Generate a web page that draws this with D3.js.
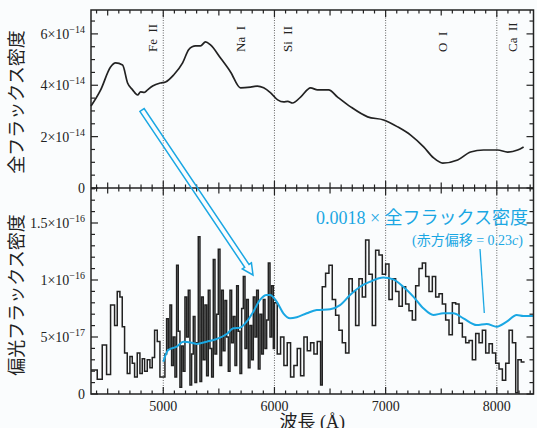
<!DOCTYPE html>
<html>
<head>
<meta charset="utf-8">
<script src="https://cdn.jsdelivr.net/npm/d3@7"></script>
<style>
  body { margin: 0; background: #fafcfd; }
  svg text { font-family: 'Liberation Serif', 'Times New Roman', serif; }
  svg .jp { font-family: 'Noto Sans CJK JP', sans-serif; }
</style>
</head>
<body>
<script>
// total flux (units of 1e-14)
var totalWave = [4350, 4437, 4526, 4571, 4634, 4679, 4724, 4769, 4796, 4830, 4859, 4904, 4976, 5021, 5093, 5174, 5228, 5260, 5290, 5335, 5380, 5425, 5515, 5605, 5695, 5785, 5847, 5903, 5966, 6029, 6083, 6120, 6163, 6235, 6325, 6388, 6487, 6568, 6685, 6838, 6982, 7108, 7225, 7342, 7432, 7513, 7648, 7764, 7881, 8007, 8097, 8187, 8241];
var totalFlux = [3.19, 3.82, 4.71, 4.87, 4.79, 4.09, 3.82, 3.62, 3.74, 3.72, 3.82, 3.97, 4.09, 4.13, 4.40, 4.87, 5.38, 5.50, 5.53, 5.53, 5.69, 5.57, 5.06, 4.52, 3.90, 3.93, 3.97, 3.90, 3.70, 3.43, 3.35, 3.37, 3.31, 3.54, 3.90, 3.82, 3.82, 3.54, 3.16, 2.77, 2.65, 2.38, 2.06, 1.60, 1.17, 0.97, 1.09, 1.40, 1.48, 1.48, 1.40, 1.48, 1.60];

// polarized flux histogram (bin start, units of 1e-17)
var polStart = [4350, 4406, 4451, 4490, 4526, 4562, 4586, 4610, 4631, 4652, 4676, 4700, 4721, 4742, 4766, 4790, 4811, 4832, 4856, 4880, 4901, 4922, 4946, 4970,
  5000, 5015, 5030, 5045, 5060, 5075, 5090, 5105, 5120, 5135,
  5150, 5165, 5180, 5195, 5210, 5225, 5240, 5255, 5270, 5285,
  5300, 5315, 5330, 5345, 5360, 5375, 5390, 5405, 5420, 5435,
  5450, 5465, 5480, 5495, 5510, 5525, 5540, 5555, 5570, 5585,
  5600, 5615, 5630, 5645, 5660, 5675, 5690, 5705, 5720, 5735,
  5750, 5765, 5780, 5795, 5810, 5825, 5840, 5855, 5870, 5885,
  5900, 5915, 5930, 5945, 5960, 5975, 5990,
  6000, 6025, 6055, 6085, 6115, 6145, 6175, 6205, 6235, 6265,
  6295, 6325, 6355, 6385, 6415, 6430, 6460, 6490, 6520, 6550,
  6580, 6610, 6640, 6670, 6700, 6730, 6760, 6790, 6820, 6850,
  6880, 6910, 6940, 6970, 7000, 7030, 7060, 7090, 7120, 7150,
  7180, 7210, 7240, 7270, 7300, 7330, 7360, 7390, 7420, 7450,
  7480, 7510, 7540, 7570, 7600, 7630, 7660, 7690, 7720, 7750,
  7780, 7810, 7840, 7870, 7900, 7930, 7960, 7990, 8020, 8050,
  8080, 8110, 8140, 8170, 8190, 8220];
var polFlux = [2.1, 1.3, 4.3, 1.7, 7.8, 6.0, 9.0, 8.5, 5.9, 3.6, 1.8, 3.3, 2.7, 1.5, 3.6, 1.8, 3.1, 2.0, 3.0, 2.3, 3.2, 5.6, 4.6, 1.5,
  1.5, 3.5, 6.6, 4.0, 7.8, 2.5, 5.0, 1.5, 11.3, 5.5,
  0.6, 4.2, 2.0, 8.5, 5.0, 9.1, 0.8, 3.5, 6.8, 1.0,
  4.5, 13.8, 1.1, 8.5, 3.0, 7.8, 1.6, 9.1, 4.0, 1.5,
  11.8, 3.5, 7.0, 12.7, 2.5, 9.1, 3.8, 8.2, 5.0, 2.0,
  9.1, 4.5, 6.8, 2.5, 9.5, 5.5, 1.8, 7.5, 10.3, 4.0,
  8.3, 2.3, 6.0, 3.0, 8.5, 5.0, 9.1, 2.2, 7.0, 3.5,
  8.3, 4.0, 6.5, 11.5, 5.0, 9.5, 4.0,
  8.0, 3.5, 5.0, 2.5, 4.5, 1.5, 2.5, 4.0, 1.6, 5.0,
  3.8, 4.5, 3.5, 4.6, 0.8, 9.4, 10.6, 11.3, 8.3, 6.9,
  5.6, 4.5, 3.6, 10.1, 9.0, 6.0, 10.1, 8.5, 13.5, 10.5,
  6.0, 12.6, 12.2, 10.5, 11.4, 8.3, 10.1, 9.0, 7.7, 9.4,
  7.9, 7.3, 6.5, 9.5, 11.0, 11.5, 10.3, 9.0, 10.3, 8.5,
  8.8, 7.9, 6.5, 5.2, 8.0, 7.9, 6.2, 5.0, 4.5, 4.7,
  3.0, 5.3, 4.5, 5.6, 3.6, 4.4, 3.6, 2.7, 2.2, 1.2,
  2.7, 5.6, 4.5, 0.1, 3.0, 2.8];
var polEnd = 8250;

// 0.0018 x total flux, redshifted (units of 1e-17)
var modelWave = [5000, 5045, 5121, 5180, 5256, 5301, 5391, 5481, 5571, 5630, 5690, 5750, 5810, 5870, 5930, 5960, 6020, 6080, 6140, 6200, 6290, 6380, 6500, 6590, 6680, 6770, 6860, 6979, 7069, 7159, 7249, 7339, 7429, 7519, 7609, 7699, 7819, 7909, 7999, 8089, 8179, 8238, 8330];
var modelFlux = [2.83, 3.86, 4.15, 4.59, 4.50, 4.39, 4.59, 4.82, 5.26, 5.76, 5.82, 6.34, 7.22, 8.25, 8.68, 8.68, 8.10, 7.08, 6.64, 6.73, 7.08, 7.37, 7.43, 7.80, 8.68, 9.41, 9.85, 10.23, 10.06, 9.41, 8.54, 7.52, 6.93, 7.08, 7.08, 6.64, 6.05, 6.14, 5.90, 6.34, 6.93, 6.84, 6.84];

var lineNames = ["Fe\u2002II", "Na\u2002I", "Si\u2002II", "O\u2002I", "Ca\u2002II"];
var lineWave = [4899, 5699, 6113, 7516, 8137];

var xMajor = [5000, 6000, 7000, 8000];
var topTickVals = [0, 2, 4, 6];
var topTickText = [["0", ""], ["2×10", "−14"], ["4×10", "−14"], ["6×10", "−14"]];
var botTickVals = [0, 5, 10, 15];
var botTickText = [["0", ""], ["5×10", "−17"], ["1×10", "−16"], ["1.5×10", "−16"]];

var W = 537, H = 428;
var blue = "#1aa7e3", ink = "#222";
var svg = d3.select("body").append("svg").attr("width", W).attr("height", H);
svg.append("rect").attr("width", W).attr("height", H).attr("fill", "#fafcfd");

var L = 91, R = 533.5, T = 10, M = 188, B = 394;
var x = d3.scaleLinear().domain([4350, 8330]).range([L, R]);
var yTop = d3.scaleLinear().domain([0, 6.93]).range([M, T]);
var yBot = d3.scaleLinear().domain([0, 18.07]).range([B, M]);

// dotted lines at 1000 A
svg.selectAll(".grid").data(xMajor).enter().append("line")
  .attr("x1", d => x(d)).attr("x2", d => x(d)).attr("y1", T).attr("y2", B)
  .attr("stroke", "#555").attr("stroke-width", 0.9).attr("stroke-dasharray", "1,1.5");

// total flux
var topLine = d3.line().x(d => x(d[0])).y(d => yTop(d[1])).curve(d3.curveMonotoneX);
svg.append("path").datum(totalWave.map((w, i) => [w, totalFlux[i]]))
  .attr("d", topLine).attr("fill", "none").attr("stroke", ink).attr("stroke-width", 1.7);

// polarized flux histogram
var steps = [];
polStart.forEach(function (s, i) {
  var e = i < polStart.length - 1 ? polStart[i + 1] : polEnd;
  steps.push([s, polFlux[i]]);
  steps.push([e, polFlux[i]]);
});
svg.append("path").datum(steps)
  .attr("d", d3.line().x(d => x(d[0])).y(d => yBot(d[1])))
  .attr("fill", "none").attr("stroke", ink).attr("stroke-width", 1.5);

// scaled total flux
svg.append("path").datum(modelWave.map((w, i) => [w, modelFlux[i]]))
  .attr("d", d3.line().x(d => x(d[0])).y(d => yBot(d[1])).curve(d3.curveMonotoneX))
  .attr("fill", "none").attr("stroke", blue).attr("stroke-width", 2);

// frame
svg.append("rect").attr("x", L).attr("y", T).attr("width", R - L).attr("height", B - T)
  .attr("fill", "none").attr("stroke", ink).attr("stroke-width", 1.5);
svg.append("line").attr("x1", L).attr("x2", R).attr("y1", M).attr("y2", M)
  .attr("stroke", ink).attr("stroke-width", 1.5);

// x ticks
var g = svg.append("g").attr("stroke", ink).attr("stroke-width", 1.2);
d3.range(4400, 8400, 100).forEach(function (w) {
  var len = w % 1000 === 0 ? 7 : (w % 500 === 0 ? 5.5 : 3.5);
  var px = x(w);
  g.append("line").attr("x1", px).attr("x2", px).attr("y1", T).attr("y2", T + len);
  g.append("line").attr("x1", px).attr("x2", px).attr("y1", M - len).attr("y2", M + len);
  g.append("line").attr("x1", px).attr("x2", px).attr("y1", B).attr("y2", B - len);
});

// y ticks
function yTicks(scale, lo, hi, step, majorEvery) {
  for (var v = lo; v <= hi + 1e-9; v += step) {
    var len = (Math.abs(v / majorEvery - Math.round(v / majorEvery)) < 1e-6) ? 7 : 4;
    var py = scale(v);
    g.append("line").attr("x1", L).attr("x2", L + len).attr("y1", py).attr("y2", py);
    g.append("line").attr("x1", R).attr("x2", R - len).attr("y1", py).attr("y2", py);
  }
}
yTicks(yTop, 0, 6.9, 0.5, 2);
yTicks(yBot, 0, 18, 1, 5);

// y tick labels
function yLabels(scale, vals, texts) {
  vals.forEach(function (v, i) {
    var t = svg.append("text").attr("x", 85).attr("y", scale(v) + 5)
      .attr("text-anchor", "end").attr("font-size", 14).attr("fill", ink);
    t.append("tspan").text(texts[i][0]);
    if (texts[i][1]) t.append("tspan").attr("dy", -6).attr("font-size", 10).text(texts[i][1]);
  });
}
yLabels(yTop, topTickVals, topTickText);
yLabels(yBot, botTickVals, botTickText);

// x tick labels
svg.selectAll(".xl").data(xMajor).enter().append("text")
  .attr("x", d => x(d)).attr("y", 411).attr("text-anchor", "middle")
  .attr("font-size", 14).attr("fill", ink).text(d => d);

// axis titles
svg.append("text").attr("class", "jp").attr("transform", "translate(23,102) rotate(-90)")
  .attr("text-anchor", "middle").attr("font-size", 18).attr("fill", ink)
  .text("全フラックス密度");
svg.append("text").attr("class", "jp").attr("transform", "translate(23,295) rotate(-90)")
  .attr("text-anchor", "middle").attr("font-size", 18).attr("fill", ink)
  .text("偏光フラックス密度");
var xt = svg.append("text").attr("x", (L + R) / 2).attr("y", 428).attr("text-anchor", "middle")
  .attr("font-size", 18).attr("fill", ink);
xt.append("tspan").attr("class", "jp").text("波長");
xt.append("tspan").text(" (Å)");

// line identifications
svg.selectAll(".ion").data(lineNames).enter().append("text")
  .attr("transform", (d, i) => "translate(" + x(lineWave[i]) + ",52) rotate(-90)")
  .attr("dominant-baseline", "central").attr("font-size", 13).attr("fill", ink)
  .text(d => d);

// hollow arrow
var ax0 = 142, ay0 = 110, ax1 = 253, ay1 = 275;
var dx = ax1 - ax0, dy = ay1 - ay0, len = Math.hypot(dx, dy);
var ux = dx / len, uy = dy / len, nx = -uy, ny = ux;
var sw = 2.6, hw = 5.5, hl = 11;
var bx = ax1 - ux * hl, by = ay1 - uy * hl;
var pts = [
  [ax0 + nx * sw, ay0 + ny * sw], [bx + nx * sw, by + ny * sw], [bx + nx * hw, by + ny * hw],
  [ax1, ay1], [bx - nx * hw, by - ny * hw], [bx - nx * sw, by - ny * sw], [ax0 - nx * sw, ay0 - ny * sw]
];
svg.append("path").attr("d", "M" + pts.map(p => p.join(",")).join("L") + "Z")
  .attr("fill", "none").attr("stroke", blue).attr("stroke-width", 1.5);

// annotation
var a1 = svg.append("text").attr("x", 528).attr("y", 224).attr("text-anchor", "end")
  .attr("font-size", 18).attr("fill", blue);
a1.append("tspan").text("0.0018 × ");
a1.append("tspan").attr("class", "jp").text("全フラックス密度");
var a2 = svg.append("text").attr("x", 523).attr("y", 245).attr("text-anchor", "end")
  .attr("font-size", 14).attr("fill", blue);
a2.append("tspan").text("(");
a2.append("tspan").attr("class", "jp").text("赤方偏移");
a2.append("tspan").text(" = 0.23");
a2.append("tspan").attr("font-style", "italic").text("c");
a2.append("tspan").text(")");
svg.append("line").attr("x1", 480).attr("y1", 249).attr("x2", 484.3).attr("y2", 313)
  .attr("stroke", blue).attr("stroke-width", 1.3);
</script>
</body>
</html>
